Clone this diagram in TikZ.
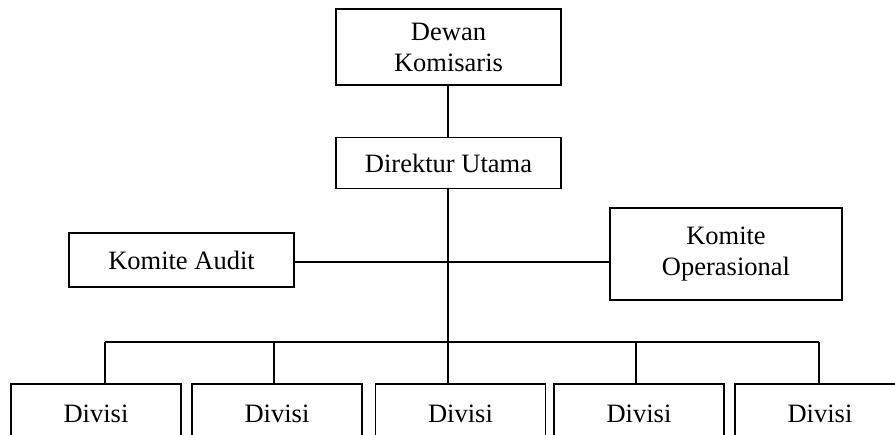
\documentclass[tikz,border=0pt]{standalone}
\usepackage{fontspec}
\setmainfont{Liberation Serif}
\begin{document}
\begin{tikzpicture}[x=1pt,y=-1pt,
  every node/.style={font=\fontsize{26.5}{31}\selectfont},
  unit/.style={draw,line width=1.6pt,inner sep=0pt,align=center},
  link/.style={line width=1.6pt}]
\useasboundingbox (0,0) rectangle (895,435);
\clip (0,0) rectangle (895,435);
% board and director
\node[unit,minimum width=225pt,minimum height=76pt] (dk) at (448.5,47) {Dewan\\Komisaris};
\node[unit,minimum width=225pt,minimum height=51pt] (du) at (448.5,163) {Direktur Utama};
% committees
\node[unit,minimum width=225pt,minimum height=54pt] (ka) at (181.5,260) {Komite Audit};
\node[unit,minimum width=232pt,minimum height=92pt] (ko) at (726,254) {Komite\\Operasional};
% divisions (running past the lower edge)
\foreach \i/\cx in {1/96,2/277,3/460.5,4/639,5/820}
  \node[unit,minimum width=170pt,minimum height=60pt] (d\i) at (\cx,414) {Divisi};
% connectors
\coordinate (spine) at (448,0);
\coordinate (ctl) at (448,262);
\draw[link] (dk.south -| spine) -- (du.north -| spine);
\draw[link] (ka.east |- ctl) -- (ko.west |- ctl);
\coordinate (bl) at (105,342);
\coordinate (br) at (819,342);
\draw[link] (du.south -| spine) -- (d3.north -| spine);
\draw[link] (bl) -- (br);
\foreach \i/\bx in {1/105,2/274,4/636,5/819}{
  \coordinate (t\i) at (\bx,342);
  \draw[link] (t\i) -- (d\i.north -| t\i);
}
\end{tikzpicture}
\end{document}
